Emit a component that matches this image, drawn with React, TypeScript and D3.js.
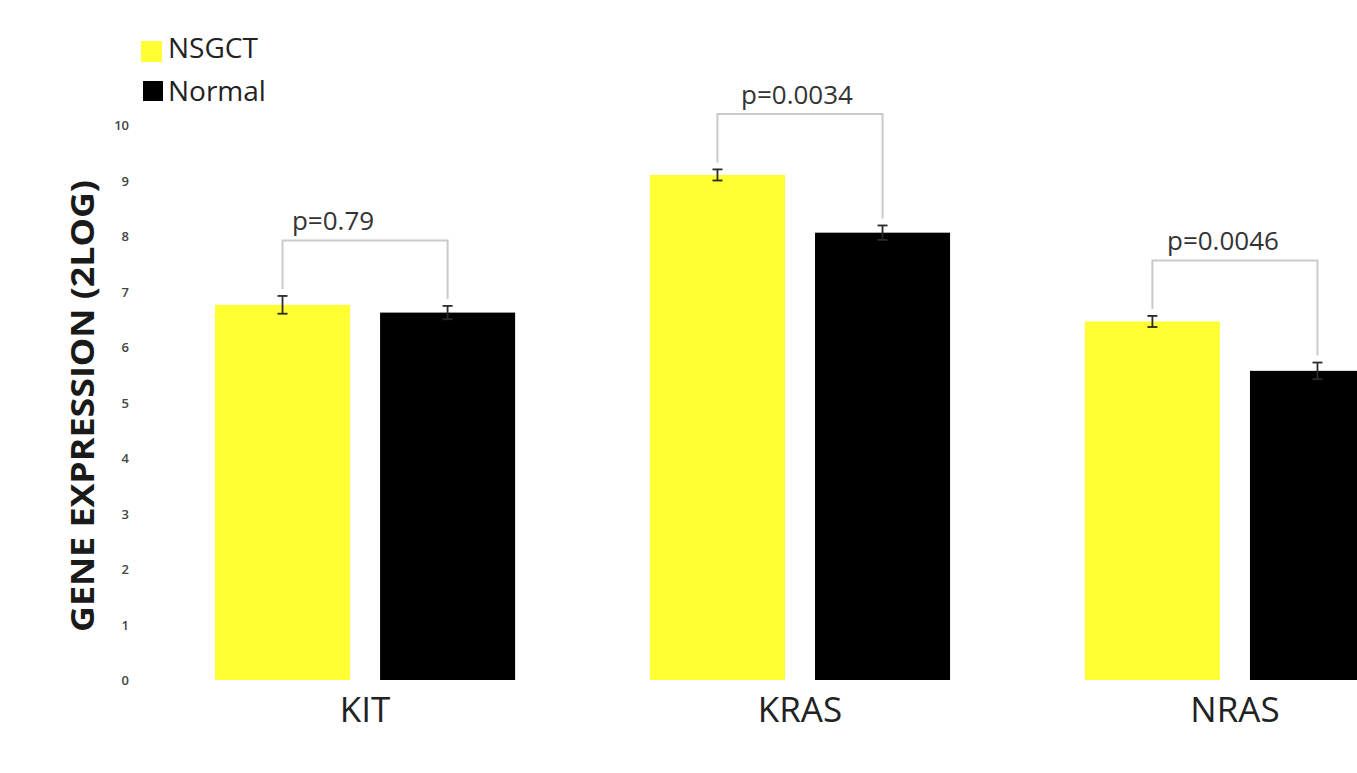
import React from "react";
import * as d3 from "d3";

// Genes on the x axis, the two sample groups, and their mean log2 expression
const genes = ["KIT", "KRAS", "NRAS"];
const groups = ["NSGCT", "Normal"];
const nsgctMean = [6.76, 9.1, 6.46];
const normalMean = [6.62, 8.06, 5.57];
const nsgctErr = [0.16, 0.1, 0.1];
const normalErr = [0.12, 0.13, 0.15];
const pValues = ["p=0.79", "p=0.0034", "p=0.0046"];
const yTicks = [0, 1, 2, 3, 4, 5, 6, 7, 8, 9, 10];

const colors: Record<string, string> = { NSGCT: "#FFFF33", Normal: "#000000" };
const FONT = "'Open Sans', 'Liberation Sans', sans-serif";

// horizontal nudge of each p-value label relative to its bracket centre
const pLabelShift = [-32, -3, -12];

export default function App() {
  const W = 1357;
  const H = 773;

  const x0 = d3.scaleBand<string>().domain(genes).range([215, 1385]).paddingInner(0.31).paddingOuter(0);
  const x1 = d3.scaleBand<string>().domain(groups).range([0, x0.bandwidth()]).paddingInner(0.182);
  const y = d3.scaleLinear().domain([0, 10]).range([680, 125]);

  const rows = genes.map((g, i) => ({
    gene: g,
    bars: [
      { group: "NSGCT", mean: nsgctMean[i], err: nsgctErr[i] },
      { group: "Normal", mean: normalMean[i], err: normalErr[i] },
    ],
  }));

  return (
    <svg
      width={W}
      height={H}
      style={{ position: "absolute", left: 0, top: 0, background: "#fff" }}
      fontFamily={FONT}
    >
      {/* legend */}
      <rect x={141} y={41} width={21} height={21} fill={colors.NSGCT} />
      <text x={168} y={58} fontSize={28} fontWeight={500} fill="#222">NSGCT</text>
      <rect x={143} y={81} width={20} height={20} fill={colors.Normal} />
      <text x={168} y={101} fontSize={28} fontWeight={500} fill="#222">Normal</text>

      {/* y axis tick labels */}
      {yTicks.map((t) => (
        <text
          key={t}
          x={129}
          y={y(t)}
          textAnchor="end"
          dominantBaseline="central"
          fontSize={13}
          fontWeight={600}
          fill="#444"
        >
          {t}
        </text>
      ))}

      {/* y axis title */}
      <text
        transform={`translate(81, 406) rotate(-90)`}
        textAnchor="middle"
        dominantBaseline="central"
        fontSize={33}
        fontWeight={700}
        fill="#1a1a1a"
        textLength={452}
        lengthAdjust="spacingAndGlyphs"
      >
        GENE EXPRESSION (2LOG)
      </text>

      {rows.map((row, i) => {
        const gx = x0(row.gene)!;
        const centers = row.bars.map((b) => gx + x1(b.group)! + x1.bandwidth() / 2);
        const tops = row.bars.map((b) => y(b.mean + b.err));
        const bracketY = y(Math.max(...row.bars.map((b) => b.mean + b.err)) + 1.0);
        const midX = (centers[0] + centers[1]) / 2;
        return (
          <g key={row.gene}>
            {row.bars.map((b) => (
              <rect
                key={b.group}
                x={gx + x1(b.group)!}
                y={y(b.mean)}
                width={x1.bandwidth()}
                height={y(0) - y(b.mean)}
                fill={colors[b.group]}
              />
            ))}
            {/* error bars */}
            {row.bars.map((b, j) => (
              <g key={"e" + b.group} stroke="#2a2a2a" strokeWidth={1.8}>
                <line x1={centers[j]} x2={centers[j]} y1={y(b.mean + b.err)} y2={y(b.mean - b.err)} />
                <line x1={centers[j] - 5} x2={centers[j] + 5} y1={y(b.mean + b.err)} y2={y(b.mean + b.err)} />
                <line x1={centers[j] - 5} x2={centers[j] + 5} y1={y(b.mean - b.err)} y2={y(b.mean - b.err)} />
              </g>
            ))}
            {/* significance bracket */}
            <path
              d={`M${centers[0]},${tops[0] - 7} V${bracketY} H${centers[1]} V${tops[1] - 7}`}
              fill="none"
              stroke="#c9c9cf"
              strokeWidth={2}
            />
            <text
              x={midX + pLabelShift[i]}
              y={bracketY - 20}
              textAnchor="middle"
              dominantBaseline="central"
              fontSize={26}
              fill="#333"
            >
              {pValues[i]}
            </text>
            {/* category label */}
            <text
              x={gx + x0.bandwidth() / 2}
              y={708}
              textAnchor="middle"
              dominantBaseline="central"
              fontSize={35}
              fill="#222"
            >
              {row.gene}
            </text>
          </g>
        );
      })}
    </svg>
  );
}
